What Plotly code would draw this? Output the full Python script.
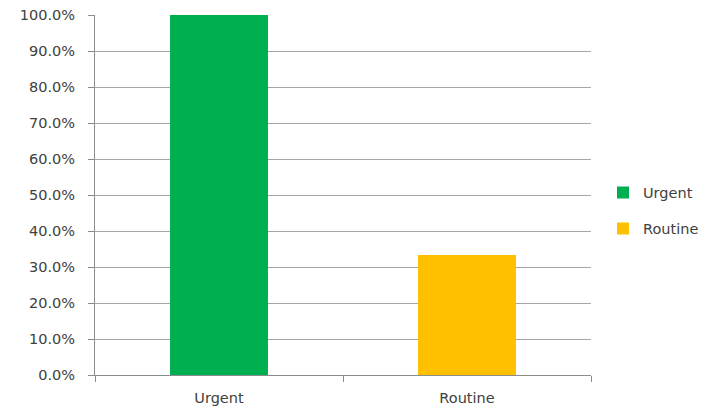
import plotly.graph_objects as go

categories = ["Urgent", "Routine"]
values = [1.0, 0.333]
colors = ["#00B050", "#FFC000"]

fig = go.Figure()
for cat, val, col in zip(categories, values, colors):
    fig.add_trace(go.Bar(
        x=[cat], y=[val], name=cat, marker=dict(color=col, line=dict(width=0)),
        width=0.395, legendgroup=cat,
    ))

font = dict(family="DejaVu Sans", size=14.5, color="#404040")
fig.update_layout(
    width=709, height=413,
    margin=dict(l=95, r=118, t=15, b=38, autoexpand=False),
    paper_bgcolor="white", plot_bgcolor="white",
    barmode="overlay",
    font=font,
    showlegend=True,
    legend=dict(x=603 / 709, y=0.49, xref="container", yref="container",
                xanchor="left", yanchor="middle",
                tracegroupgap=14, traceorder="grouped", font=font,
                itemwidth=30),
    xaxis=dict(
        categoryorder="array", categoryarray=categories,
        showline=True, linecolor="#8c8c8c", linewidth=1,
        ticks="outside", tickson="boundaries", ticklen=6, tickcolor="#8c8c8c",
        showgrid=False, tickfont=font, ticklabelstandoff=10,
    ),
    yaxis=dict(
        range=[0, 1.0], tickformat=".1%", dtick=0.1,
        showline=True, linecolor="#8c8c8c", linewidth=1,
        ticks="outside", ticklen=6, tickcolor="#8c8c8c",
        showgrid=True, gridcolor="#a6a6a6", gridwidth=1,
        zeroline=False, tickfont=font, ticklabelstandoff=10,
    ),
)
fig.write_html("out.html")
